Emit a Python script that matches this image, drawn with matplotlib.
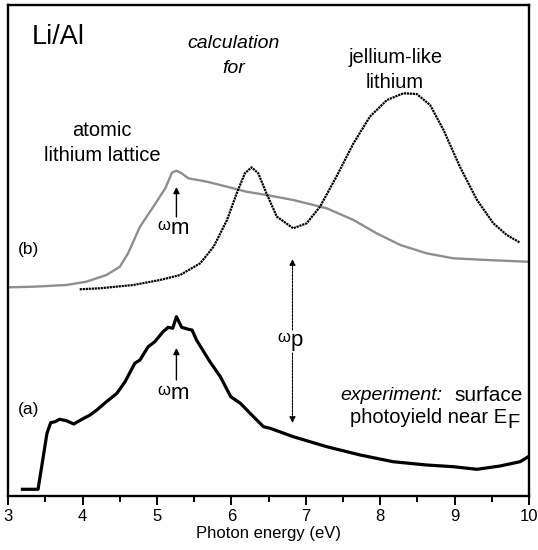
import matplotlib
matplotlib.use("Agg")
import matplotlib.pyplot as plt
from matplotlib.ticker import MultipleLocator

plt.rcParams['font.family'] = ['Liberation Sans', 'DejaVu Sans']

# (a) experiment: surface photoyield near E_F  (heights in arbitrary units)
exp_e = [3.19, 3.40, 3.47, 3.52, 3.57, 3.63, 3.69, 3.78, 3.88, 3.99, 4.10, 4.19,
         4.32, 4.46, 4.57, 4.70, 4.77, 4.88, 4.97, 5.08, 5.15, 5.21, 5.26, 5.33,
         5.42, 5.47, 5.53, 5.71, 5.85, 5.99, 6.12, 6.25, 6.43, 6.52, 6.83, 7.28,
         7.73, 8.17, 8.62, 8.98, 9.30, 9.61, 9.88, 9.99]
exp_y = [6.7, 6.7, 39.3, 62.7, 73.3, 74.3, 76.7, 75.3, 72, 76.7, 81, 86,
         94.3, 102.7, 114.3, 132.7, 136, 149.3, 154.3, 164.3, 168.7, 167.7, 179.3, 168.7,
         166.7, 166, 156, 134.3, 119.3, 99.3, 92.7, 82.7, 69.3, 67.7, 59.3, 49.3,
         41, 34.3, 31, 29.3, 26.7, 30, 34.3, 39.3]

# (b) calculation for atomic lithium lattice (grey)
atom_e = [3.00, 3.34, 3.78, 4.05, 4.32, 4.50, 4.61, 4.77, 4.95, 5.11, 5.20, 5.26,
          5.33, 5.42, 5.67, 5.94, 6.20, 6.47, 6.83, 7.28, 7.64, 7.95, 8.27, 8.62,
          8.98, 9.43, 9.97]
atom_y = [208.7, 209.3, 211, 214.3, 221, 229.3, 242.7, 269.3, 289.3, 307.7, 323.3, 325.3,
          322.7, 317.7, 314.3, 309.3, 304.3, 301, 296, 287.7, 276, 262.7, 251, 242.7,
          237.7, 236, 234.3]

# (b) calculation for jellium-like lithium (black)
jel_e = [3.96, 4.23, 4.68, 5.04, 5.31, 5.58, 5.76, 5.94, 6.07, 6.18, 6.27, 6.36,
         6.47, 6.61, 6.83, 7.01, 7.19, 7.41, 7.64, 7.86, 8.09, 8.31, 8.49, 8.67,
         8.85, 9.07, 9.30, 9.52, 9.70, 9.88]
jel_y = [206.7, 207.7, 211, 216, 221, 232.7, 249.3, 276, 302.7, 322.7, 328.7, 322.7,
         302.7, 279.3, 267.7, 272.7, 289.3, 319.3, 352.7, 379.3, 396, 402.7, 402, 391,
         366, 329.3, 296, 272.7, 261, 253.3]

tick_vals = [3, 4, 5, 6, 7, 8, 9, 10]

fig = plt.figure(figsize=(5.38, 5.5), dpi=100)
ax = fig.add_axes([0.0154, 0.0982, 0.968, 0.8927])

ax.plot(atom_e, atom_y, color='#8e8e8e', lw=1.7)
ax.plot(jel_e, jel_y, color='black', lw=1.6, linestyle=(0, (1, 0.35)))
ax.plot(exp_e, exp_y, color='black', lw=2.3)

ax.set_xlim(3, 10)
ax.set_ylim(0, 491)
ax.set_xticks(tick_vals)
ax.xaxis.set_minor_locator(MultipleLocator(0.5))
ax.tick_params(axis='x', which='major', direction='out', length=6.7, width=1.4,
               labelsize=12, pad=3)
ax.tick_params(axis='x', which='minor', direction='out', length=4.3, width=1.4)
ax.set_yticks([])
for s in ax.spines.values():
    s.set_linewidth(1.7)
ax.set_xlabel('Photon energy (eV)', fontsize=12, labelpad=1)

# labels
ax.text(3.32, 459, 'Li/Al', fontsize=19.5, va='center')
ax.text(6.03, 453, 'calculation', fontsize=14, style='italic', ha='center', va='center')
ax.text(6.03, 428, 'for', fontsize=14, style='italic', ha='center', va='center')
ax.text(8.20, 439, 'jellium-like', fontsize=14.5, ha='center', va='center')
ax.text(8.20, 414, 'lithium', fontsize=14.5, ha='center', va='center')
ax.text(4.26, 366, 'atomic', fontsize=14.5, ha='center', va='center')
ax.text(4.26, 340.5, 'lithium lattice', fontsize=14.5, ha='center', va='center')
ax.text(3.13, 246, '(b)', fontsize=12.5, va='center')
ax.text(3.13, 86, '(a)', fontsize=12.5, va='center')
ax.text(8.83, 100, 'experiment:', fontsize=14, style='italic', ha='right', va='center')
ax.text(9.92, 100, 'surface', fontsize=15, ha='right', va='center')
ef = ax.text(9.70, 78, 'photoyield near E', fontsize=14.5, ha='right', va='center')
ax.annotate('F', xy=(1, 0), xycoords=ef, xytext=(0.5, -3), textcoords='offset points',
            fontsize=14.5, ha='left', va='bottom')

arrow_kw = dict(arrowstyle='-|>', color='black', lw=1.0, mutation_scale=9,
                shrinkA=0, shrinkB=0)


def omega_label(x, y, sub):
    w = ax.text(x, y, '\u03c9', fontsize=12, ha='right', va='baseline')
    ax.annotate(sub, xy=(1, 0), xycoords=w, xytext=(0, -4), textcoords='offset points',
                fontsize=16, ha='left', va='bottom')


# omega_m arrows
ax.annotate('', xy=(5.26, 309), xytext=(5.26, 279), arrowprops=arrow_kw)
omega_label(5.18, 266, 'm')
ax.annotate('', xy=(5.26, 148), xytext=(5.26, 116), arrowprops=arrow_kw)
omega_label(5.18, 101, 'm')

# omega_p double arrow
dash_kw = dict(arrow_kw, lw=0.8, ls=(0, (2, 1)))
ax.annotate('', xy=(6.82, 237), xytext=(6.82, 166), arrowprops=dash_kw)
ax.annotate('', xy=(6.82, 73), xytext=(6.82, 143), arrowprops=dash_kw)
omega_label(6.79, 154, 'p')

fig.savefig('out.png', dpi=100)
